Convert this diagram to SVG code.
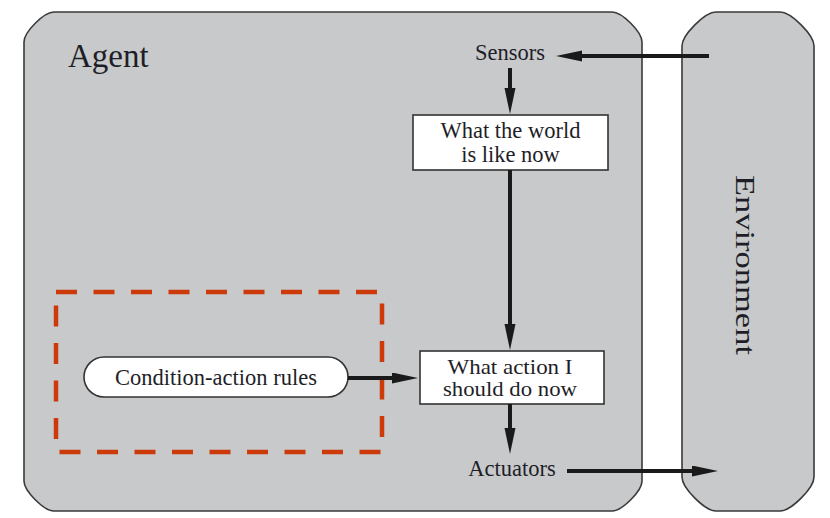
<svg xmlns="http://www.w3.org/2000/svg" width="830" height="518" viewBox="0 0 830 518">
  <defs>
    <style>
      .panel { fill: #c8c9cb; stroke: #3a3a3a; stroke-width: 1.6; }
      .box { fill: #ffffff; stroke: #333333; stroke-width: 1.6; }
      .lbl { font-family: "Liberation Serif", "Times New Roman", serif; fill: #1e1e28; font-size: 22.5px; text-anchor: middle; }
      .tight { font-size: 21px; }
      .conn { stroke: #1a1a1a; stroke-width: 4; fill: none; marker-end: url(#ah); }
      .dash { fill: none; stroke: #cc3a0a; stroke-width: 4.5; stroke-dasharray: 21 16.5; }
    </style>
    <marker id="ah" markerUnits="userSpaceOnUse" markerWidth="28" markerHeight="12" refX="2" refY="5.5" orient="auto">
      <path d="M0,0 L26,5.5 L0,11 z" fill="#1a1a1a"/>
    </marker>
  </defs>

  <g id="agent">
    <path class="panel" d="M24,42 C24,32 44,12 54,12 L612,12 C622,12 642,32 642,42 L642,481 C642,491 622,511 612,511 L54,511 C44,511 24,491 24,481 Z"/>
    <text x="68" y="67" style="font-family: 'Liberation Serif', 'Times New Roman', serif; font-size: 33px; fill: #1e1e28;">Agent</text>
  </g>

  <g id="environment">
    <path class="panel" d="M682,46 C682,35 705,12 716,12 L780,12 C791,12 814,35 814,46 L814,477 C814,488 791,511 780,511 L716,511 C705,511 682,488 682,477 Z"/>
    <text transform="translate(736,265) rotate(90)" x="0" y="0" textLength="180" lengthAdjust="spacingAndGlyphs" style="font-family: 'Liberation Serif', 'Times New Roman', serif; font-size: 27px; fill: #1e1e28; text-anchor: middle;">Environment</text>
  </g>

  <g id="sensors">
    <text class="lbl" x="510" y="60">Sensors</text>
  </g>

  <g id="world-state">
    <rect class="box" x="413" y="115" width="195" height="55"/>
    <text class="lbl" x="510.5" y="138">What the world</text>
    <text class="lbl" x="510.5" y="162">is like now</text>
  </g>

  <g id="rule-box">
    <rect class="dash" x="56" y="292" width="326" height="160"/>
  </g>

  <g id="rules">
    <rect class="box" x="84" y="357" width="264" height="40" rx="20" ry="20"/>
    <text class="lbl" x="216" y="385">Condition-action rules</text>
  </g>

  <g id="action">
    <rect class="box" x="420" y="351" width="184" height="53"/>
    <text class="lbl tight" x="510" y="374" textLength="125" lengthAdjust="spacingAndGlyphs">What action I</text>
    <text class="lbl tight" x="510" y="396" textLength="134" lengthAdjust="spacingAndGlyphs">should do now</text>
  </g>

  <g id="actuators">
    <text class="lbl" x="512" y="476">Actuators</text>
  </g>

  <g id="connectors">
    <line class="conn" x1="709" y1="56" x2="580" y2="56"/>
    <line class="conn" x1="510" y1="68" x2="510" y2="90"/>
    <line class="conn" x1="510" y1="170" x2="510" y2="326"/>
    <line class="conn" x1="348" y1="378" x2="394" y2="378"/>
    <line class="conn" x1="510" y1="404" x2="510" y2="430"/>
    <line class="conn" x1="567" y1="471" x2="694" y2="471"/>
  </g>
</svg>
